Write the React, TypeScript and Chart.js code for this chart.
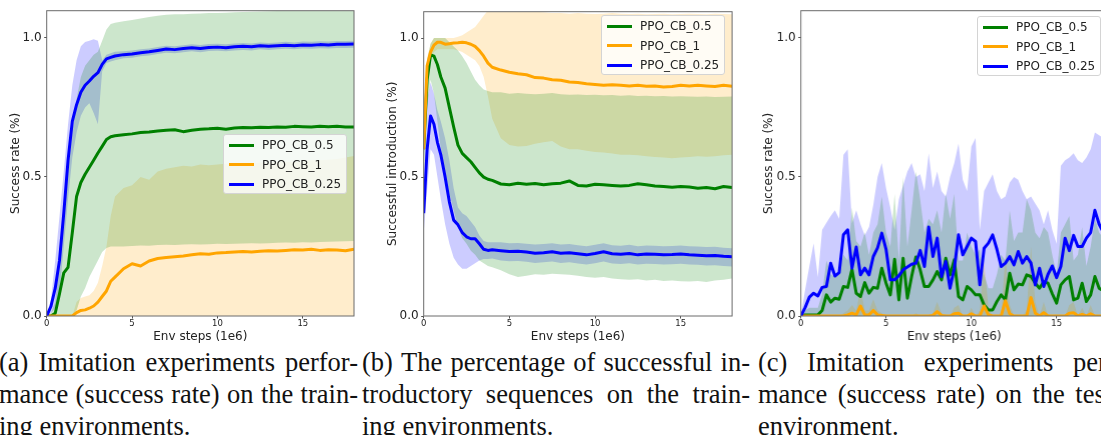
import React, { useEffect, useRef } from "react";
import { Chart, registerables } from "chart.js";

Chart.register(...registerables);

const SANS = "'DejaVu Sans', sans-serif";
const SERIF = "'Liberation Serif', 'Times New Roman', serif";

const LABELS = ["PPO_CB_0.5", "PPO_CB_1", "PPO_CB_0.25"];
const LINE_COLORS = ["#008000", "#ffa500", "#0000ff"];
const FILL_COLORS = ["rgba(0,128,0,0.2)", "rgba(255,165,0,0.2)", "rgba(0,0,255,0.2)"];
const X_TICKS = [0, 5, 10, 15];
const Y_TICKS = [0, 0.5, 1.0];

// ---------- Panel (a): success rate on training environments ----------
const xA = [0, 0.25, 0.5, 0.75, 1, 1.25, 1.5, 1.75, 2, 2.25, 2.5, 2.75, 3, 3.25, 3.5, 3.75, 4,
  4.5, 5, 5.5, 6, 6.5, 7, 7.5, 8, 8.5, 9, 9.5, 10, 10.5, 11, 11.5, 12, 12.5, 13, 13.5, 14, 14.5, 15, 15.5, 16, 16.5, 17, 17.5, 18];

const aGreen = [0, 0, 0.01, 0.08, 0.155, 0.175, 0.3, 0.43, 0.48, 0.51, 0.535, 0.56, 0.586, 0.61, 0.635, 0.645, 0.648,
  0.652, 0.655, 0.66, 0.662, 0.665, 0.668, 0.67, 0.663, 0.668, 0.672, 0.673, 0.675, 0.672, 0.676, 0.678, 0.677, 0.679, 0.678, 0.68, 0.679, 0.682, 0.681, 0.68, 0.682, 0.681, 0.682, 0.68, 0.68];
const aGreenHi = [0, 0.01, 0.05, 0.2, 0.36, 0.52, 0.66, 0.78, 0.86, 0.9, 0.92, 0.94, 0.95, 0.99, 1.03, 1.05, 1.055,
  1.06, 1.065, 1.07, 1.075, 1.08, 1.083, 1.085, 1.085, 1.087, 1.088, 1.09, 1.09, 1.091, 1.092, 1.093, 1.094, 1.095, 1.096, 1.097, 1.098, 1.099, 1.1, 1.1, 1.1, 1.1, 1.1, 1.1, 1.1];
const aGreenLo = [0, 0, 0, 0, 0, 0, 0, 0.02, 0.07, 0.1, 0.14, 0.17, 0.2, 0.23, 0.245, 0.25, 0.25,
  0.25, 0.252, 0.254, 0.253, 0.255, 0.256, 0.255, 0.257, 0.258, 0.257, 0.258, 0.26, 0.259, 0.26, 0.261, 0.262, 0.261, 0.262, 0.263, 0.264, 0.263, 0.265, 0.264, 0.266, 0.267, 0.268, 0.269, 0.27];

const aOrange = [0, 0, 0, 0, 0, 0, 0, 0.012, 0.02, 0.022, 0.028, 0.036, 0.05, 0.07, 0.09, 0.125, 0.14,
  0.17, 0.188, 0.18, 0.198, 0.207, 0.21, 0.213, 0.216, 0.22, 0.224, 0.222, 0.227, 0.228, 0.23, 0.232, 0.23, 0.233, 0.235, 0.234, 0.236, 0.238, 0.237, 0.24, 0.236, 0.238, 0.237, 0.235, 0.24];
const aOrangeHi = [0, 0, 0, 0, 0, 0, 0, 0.05, 0.065, 0.07, 0.075, 0.09, 0.12, 0.18, 0.25, 0.36, 0.43,
  0.46, 0.47, 0.5, 0.49, 0.52, 0.53, 0.535, 0.54, 0.538, 0.545, 0.542, 0.545, 0.548, 0.55, 0.55, 0.548, 0.552, 0.55, 0.553, 0.555, 0.553, 0.556, 0.56, 0.56, 0.562, 0.565, 0.57, 0.575];
const aOrangeLo = [0, 0, 0, 0, 0, 0, 0, 0, 0, 0, 0, 0, 0, 0, 0, 0, 0,
  0, 0, 0, 0, 0, 0, 0, 0, 0, 0, 0, 0, 0, 0, 0, 0, 0, 0, 0, 0, 0, 0, 0, 0, 0, 0, 0, 0];

const aBlue = [0, 0.035, 0.1, 0.2, 0.37, 0.56, 0.7, 0.76, 0.805, 0.83, 0.845, 0.862, 0.875, 0.905, 0.925, 0.93, 0.935,
  0.94, 0.942, 0.947, 0.95, 0.955, 0.96, 0.958, 0.962, 0.965, 0.962, 0.966, 0.967, 0.965, 0.968, 0.97, 0.968, 0.972, 0.97, 0.972, 0.974, 0.972, 0.975, 0.974, 0.976, 0.975, 0.977, 0.977, 0.978];
const aBlueHi = [0, 0.06, 0.2, 0.36, 0.52, 0.69, 0.83, 0.92, 0.97, 0.985, 0.99, 0.995, 0.99, 0.92, 0.94, 0.945, 0.95,
  0.952, 0.955, 0.959, 0.962, 0.967, 0.972, 0.97, 0.974, 0.977, 0.975, 0.978, 0.979, 0.977, 0.98, 0.982, 0.98, 0.984, 0.982, 0.984, 0.986, 0.984, 0.987, 0.986, 0.988, 0.987, 0.989, 0.989, 0.99];
const aBlueLo = [0, 0.01, 0.03, 0.08, 0.25, 0.42, 0.57, 0.66, 0.72, 0.75, 0.765, 0.73, 0.69, 0.88, 0.91, 0.915, 0.92,
  0.927, 0.929, 0.934, 0.937, 0.942, 0.947, 0.945, 0.949, 0.952, 0.949, 0.953, 0.954, 0.952, 0.955, 0.957, 0.955, 0.959, 0.957, 0.959, 0.961, 0.959, 0.962, 0.961, 0.963, 0.962, 0.964, 0.964, 0.965];

// ---------- Panel (b): successful introductory sequences ----------
const xB = [0, 0.2, 0.4, 0.6, 0.8, 1, 1.25, 1.5, 1.75, 2, 2.25, 2.5, 2.75, 3, 3.25, 3.5, 3.75, 4,
  4.5, 5, 5.5, 6, 6.5, 7, 7.5, 8, 8.5, 9, 9.5, 10, 10.5, 11, 11.5, 12, 12.5, 13, 13.5, 14, 14.5, 15, 15.5, 16, 16.5, 17, 17.5, 18];

const bGreen = [0.6, 0.85, 0.94, 0.935, 0.905, 0.86, 0.82, 0.75, 0.68, 0.615, 0.585, 0.57, 0.555, 0.535, 0.515, 0.5, 0.492, 0.488,
  0.475, 0.472, 0.478, 0.474, 0.477, 0.472, 0.476, 0.478, 0.486, 0.47, 0.468, 0.474, 0.472, 0.47, 0.468, 0.47, 0.476, 0.472, 0.468, 0.466, 0.463, 0.466, 0.464, 0.46, 0.462, 0.458, 0.466, 0.462];
const bGreenHi = [0.62, 0.92, 0.98, 1.0, 1.0, 1.0, 1.0, 0.985, 0.97, 0.955, 0.935, 0.91, 0.88, 0.85, 0.83, 0.815, 0.81, 0.805,
  0.805, 0.8, 0.802, 0.8, 0.798, 0.8, 0.802, 0.798, 0.796, 0.797, 0.795, 0.796, 0.794, 0.795, 0.793, 0.794, 0.792, 0.793, 0.791, 0.792, 0.79, 0.791, 0.79, 0.789, 0.79, 0.788, 0.789, 0.79];
const bGreenLo = [0.5, 0.75, 0.85, 0.8, 0.7, 0.6, 0.52, 0.44, 0.38, 0.32, 0.28, 0.26, 0.235, 0.22, 0.2, 0.19, 0.18, 0.175,
  0.165, 0.15, 0.14, 0.145, 0.15, 0.148, 0.152, 0.15, 0.148, 0.145, 0.14, 0.138, 0.14, 0.135, 0.132, 0.13, 0.132, 0.128, 0.13, 0.126, 0.128, 0.125, 0.124, 0.126, 0.122, 0.128, 0.13, 0.135];

const bOrange = [0.6, 0.9, 0.95, 0.975, 0.985, 0.985, 0.978, 0.98, 0.982, 0.983, 0.985, 0.983, 0.978, 0.97, 0.955, 0.935, 0.91, 0.895,
  0.885, 0.877, 0.872, 0.868, 0.858, 0.856, 0.85, 0.848, 0.842, 0.84, 0.836, 0.833, 0.83, 0.832, 0.83, 0.828, 0.83, 0.827, 0.828, 0.824, 0.826, 0.83, 0.828, 0.83, 0.828, 0.826, 0.83, 0.827];
const bOrangeHi = [0.62, 0.93, 0.98, 1.0, 1.0, 1.0, 1.0, 1.0, 1.0, 1.005, 1.01, 1.02, 1.03, 1.04, 1.06, 1.08, 1.1, 1.12,
  1.13, 1.13, 1.12, 1.1, 1.095, 1.093, 1.09, 1.09, 1.088, 1.09, 1.088, 1.087, 1.088, 1.09, 1.088, 1.087, 1.088, 1.086, 1.087, 1.088, 1.086, 1.087, 1.088, 1.087, 1.086, 1.088, 1.087, 1.086];
const bOrangeLo = [0.55, 0.85, 0.92, 0.95, 0.96, 0.96, 0.96, 0.96, 0.96, 0.955, 0.95, 0.94, 0.93, 0.92, 0.9, 0.86, 0.79, 0.71,
  0.64, 0.615, 0.61, 0.612, 0.62, 0.625, 0.63, 0.61, 0.6, 0.6, 0.595, 0.59, 0.588, 0.585, 0.58, 0.58, 0.578, 0.575, 0.572, 0.57, 0.568, 0.57, 0.572, 0.575, 0.573, 0.575, 0.578, 0.58];

const bBlue = [0.37, 0.6, 0.72, 0.69, 0.625, 0.58, 0.5, 0.41, 0.345, 0.328, 0.3, 0.285, 0.278, 0.278, 0.26, 0.24, 0.236, 0.238,
  0.235, 0.232, 0.233, 0.23, 0.226, 0.228, 0.231, 0.226, 0.228, 0.224, 0.22, 0.225, 0.231, 0.224, 0.222, 0.225, 0.22, 0.223, 0.222, 0.22, 0.221, 0.223, 0.22, 0.219, 0.217, 0.218, 0.215, 0.213];
const bBlueHi = [0.45, 0.78, 0.84, 0.8, 0.74, 0.7, 0.64, 0.56, 0.46, 0.39, 0.37, 0.36, 0.34, 0.32, 0.29, 0.27, 0.265, 0.265,
  0.265, 0.262, 0.263, 0.26, 0.257, 0.259, 0.262, 0.257, 0.259, 0.255, 0.251, 0.256, 0.262, 0.255, 0.253, 0.256, 0.251, 0.254, 0.253, 0.251, 0.252, 0.254, 0.251, 0.25, 0.248, 0.249, 0.246, 0.244];
const bBlueLo = [0.3, 0.45, 0.6, 0.58, 0.5, 0.42, 0.33, 0.26, 0.21, 0.185, 0.17, 0.17, 0.18, 0.19, 0.2, 0.205, 0.205, 0.207,
  0.2, 0.197, 0.198, 0.195, 0.191, 0.193, 0.196, 0.191, 0.193, 0.189, 0.185, 0.19, 0.196, 0.189, 0.187, 0.19, 0.185, 0.188, 0.187, 0.185, 0.186, 0.188, 0.185, 0.184, 0.182, 0.183, 0.18, 0.178];

// ---------- Panel (c): success rate on testing environment ----------
const xC = [0, 0.25, 0.5, 0.75, 1, 1.25, 1.5, 1.75, 2, 2.25, 2.5, 2.75, 3, 3.25, 3.5, 3.75,
  4, 4.25, 4.5, 4.75, 5, 5.25, 5.5, 5.75, 6, 6.25, 6.5, 6.75, 7, 7.25, 7.5, 7.75,
  8, 8.25, 8.5, 8.75, 9, 9.25, 9.5, 9.75, 10, 10.25, 10.5, 10.75, 11, 11.25, 11.5, 11.75,
  12, 12.25, 12.5, 12.75, 13, 13.25, 13.5, 13.75, 14, 14.25, 14.5, 14.75, 15, 15.25, 15.5, 15.75,
  16, 16.25, 16.5, 16.75, 17, 17.25, 17.5, 17.75, 18];

const cGreen = [0, 0.004, 0.004, 0.004, 0.004, 0.02, 0.076, 0.05, 0.064, 0.06, 0.106, 0.103, 0.168, 0.082, 0.07, 0.12,
  0.082, 0.103, 0.1, 0.172, 0.118, 0.076, 0.204, 0.058, 0.208, 0.064, 0.142, 0.212, 0.166, 0.106, 0.106, 0.13,
  0.16, 0.13, 0.208, 0.148, 0.202, 0.07, 0.058, 0.106, 0.094, 0.076, 0.076, 0.04, 0.022, 0.022, 0.052, 0.076,
  0.058, 0.154, 0.094, 0.115, 0.112, 0.148, 0.142, 0.118, 0.1, 0.124, 0.118, 0.08, 0.046, 0.112, 0.13, 0.142,
  0.058, 0.064, 0.118, 0.052, 0.076, 0.142, 0.1, 0.09, 0.1];
const cGreenHi = [0, 0.02, 0.03, 0.03, 0.03, 0.08, 0.2, 0.15, 0.14, 0.16, 0.22, 0.2, 0.39, 0.27, 0.25, 0.3,
  0.22, 0.3, 0.33, 0.43, 0.3, 0.25, 0.44, 0.2, 0.5, 0.25, 0.38, 0.52, 0.42, 0.3, 0.35, 0.33,
  0.38, 0.3, 0.44, 0.35, 0.44, 0.2, 0.2, 0.3, 0.25, 0.22, 0.24, 0.15, 0.1, 0.1, 0.15, 0.22,
  0.2, 0.38, 0.27, 0.3, 0.3, 0.42, 0.38, 0.3, 0.28, 0.32, 0.3, 0.22, 0.15, 0.3, 0.33, 0.36,
  0.2, 0.22, 0.32, 0.18, 0.25, 0.35, 0.3, 0.28, 0.28];
const cGreenLo = [0, 0, 0, 0, 0, 0, 0, 0, 0, 0, 0, 0, 0, 0, 0, 0,
  0, 0, 0, 0, 0, 0, 0, 0, 0, 0, 0, 0, 0, 0, 0, 0,
  0, 0, 0, 0, 0, 0, 0, 0, 0, 0, 0, 0, 0, 0, 0, 0,
  0, 0, 0, 0, 0, 0, 0, 0, 0, 0, 0, 0, 0, 0, 0, 0,
  0, 0, 0, 0, 0, 0, 0, 0, 0];

const cOrange = [0, 0, 0, 0, 0, 0, 0, 0, 0, 0, 0, 0.004, 0.01, 0.004, 0.036, 0.004,
  0.004, 0.02, 0.004, 0.002, 0, 0, 0, 0, 0, 0, 0, 0, 0, 0, 0, 0.002,
  0.016, 0.002, 0, 0, 0.008, 0.01, 0, 0, 0.008, 0, 0, 0.036, 0.004, 0, 0, 0,
  0.055, 0.008, 0, 0, 0, 0, 0.066, 0.01, 0, 0.012, 0, 0, 0, 0, 0, 0.01,
  0.012, 0, 0.006, 0, 0.008, 0, 0, 0, 0];
const cOrangeHi = [0, 0, 0, 0, 0, 0, 0, 0, 0, 0, 0.01, 0.02, 0.04, 0.02, 0.1, 0.02,
  0.02, 0.06, 0.02, 0.01, 0, 0, 0, 0, 0, 0, 0, 0.01, 0, 0, 0, 0.01,
  0.05, 0.01, 0, 0, 0.03, 0.04, 0, 0, 0.03, 0, 0.02, 0.2, 0.03, 0, 0, 0,
  0.22, 0.04, 0, 0, 0, 0.02, 0.25, 0.05, 0, 0.05, 0, 0, 0, 0, 0, 0.04,
  0.05, 0, 0.03, 0, 0.04, 0, 0, 0, 0];
const cOrangeLo = [0, 0, 0, 0, 0, 0, 0, 0, 0, 0, 0, 0, 0, 0, 0, 0,
  0, 0, 0, 0, 0, 0, 0, 0, 0, 0, 0, 0, 0, 0, 0, 0,
  0, 0, 0, 0, 0, 0, 0, 0, 0, 0, 0, 0, 0, 0, 0, 0,
  0, 0, 0, 0, 0, 0, 0, 0, 0, 0, 0, 0, 0, 0, 0, 0,
  0, 0, 0, 0, 0, 0, 0, 0, 0];

const cBlue = [0, 0.03, 0.068, 0.082, 0.072, 0.103, 0.106, 0.19, 0.144, 0.156, 0.292, 0.31, 0.172, 0.248, 0.148, 0.172,
  0.148, 0.214, 0.245, 0.298, 0.24, 0.13, 0.13, 0.145, 0.166, 0.176, 0.186, 0.19, 0.236, 0.178, 0.32, 0.214,
  0.28, 0.142, 0.196, 0.1, 0.17, 0.292, 0.22, 0.25, 0.28, 0.268, 0.112, 0.244, 0.262, 0.292, 0.24, 0.178,
  0.19, 0.214, 0.184, 0.232, 0.19, 0.214, 0.19, 0.112, 0.172, 0.106, 0.15, 0.18, 0.138, 0.178, 0.28, 0.235,
  0.29, 0.25, 0.25, 0.28, 0.3, 0.38, 0.33, 0.3, 0.29];
const cBlueHi = [0, 0.094, 0.18, 0.262, 0.14, 0.31, 0.335, 0.36, 0.38, 0.35, 0.58, 0.6, 0.334, 0.38, 0.33, 0.29,
  0.32, 0.4, 0.5, 0.55, 0.46, 0.39, 0.31, 0.42, 0.47, 0.52, 0.55, 0.5, 0.51, 0.45, 0.585, 0.46,
  0.52, 0.45, 0.43, 0.5, 0.55, 0.62, 0.49, 0.45, 0.61, 0.64, 0.31, 0.45, 0.48, 0.51, 0.45, 0.42,
  0.43, 0.48, 0.5, 0.49, 0.45, 0.42, 0.43, 0.405, 0.38, 0.33, 0.38, 0.31, 0.26, 0.54, 0.56, 0.57,
  0.585, 0.56, 0.55, 0.57, 0.6, 0.66, 0.65, 0.64, 0.63];
const cBlueLo = [0, 0, 0, 0, 0, 0, 0, 0, 0, 0, 0, 0, 0, 0, 0, 0,
  0, 0, 0, 0, 0, 0, 0, 0, 0, 0, 0, 0, 0, 0, 0, 0,
  0, 0, 0, 0, 0, 0, 0, 0, 0, 0, 0, 0, 0, 0, 0, 0,
  0, 0, 0, 0, 0, 0, 0, 0, 0, 0, 0, 0, 0, 0, 0, 0,
  0, 0, 0, 0, 0, 0, 0, 0, 0];

// ---------- captions ----------
const CAP_A = ["(a) Imitation experiments perfor-", "mance (success rate) on the train-", "ing environments."];
const CAP_B = ["(b) The percentage of successful in-", "troductory sequences on the train-", "ing environments."];
const CAP_C = ["(c) Imitation experiments perfor-", "mance (success rate) on the testing", "environment."];

type Series = { mean: number[]; hi: number[]; lo: number[] };

const framePlugin = {
  id: "frame",
  afterDatasetsDraw(chart: any) {
    const { ctx, chartArea: a } = chart;
    ctx.save();
    ctx.strokeStyle = "#6a6a6a";
    ctx.lineWidth = 1;
    ctx.strokeRect(a.left, a.top, a.right - a.left, a.bottom - a.top);
    ctx.restore();
  },
};

function Panel(props: {
  left: number; width: number; height: number; padTop: number; padRight: number;
  yMax: number; yTitle: string; yTitlePad: number; xs: number[]; series: Series[];
}) {
  const ref = useRef<HTMLCanvasElement>(null);
  useEffect(() => {
    const { xs, series } = props;
    const pts = (arr: number[]) => xs.map((x, i) => ({ x, y: arr[i] }));
    const datasets: any[] = [];
    const lineOrder = [3, 2, 1];
    series.forEach((s, k) => {
      datasets.push({
        label: LABELS[k], data: pts(s.mean), borderColor: LINE_COLORS[k], borderWidth: 3,
        pointRadius: 0, fill: false, order: lineOrder[k], borderJoinStyle: "round", borderCapStyle: "butt",
      });
    });
    series.forEach((s, k) => {
      datasets.push({ data: pts(s.hi), borderWidth: 0, pointRadius: 0, backgroundColor: FILL_COLORS[k], fill: "+1", order: 10 + k });
      datasets.push({ data: pts(s.lo), borderWidth: 0, pointRadius: 0, fill: false, order: 10 + k });
    });
    const tickGrid = { drawOnChartArea: false, drawTicks: true, tickLength: 2.5, tickColor: "#555", lineWidth: 1 };
    const chart = new Chart(ref.current as HTMLCanvasElement, {
      type: "line",
      data: { datasets },
      plugins: [framePlugin],
      options: {
        animation: false,
        responsive: true,
        maintainAspectRatio: false,
        events: [],
        layout: { padding: { left: 0, top: props.padTop, right: props.padRight, bottom: 0 } },
        plugins: { legend: { display: false }, tooltip: { enabled: false } },
        scales: {
          x: {
            type: "linear", min: 0, max: 18,
            afterFit: (s: any) => { s.height = 29; },
            afterBuildTicks: (s: any) => { s.ticks = X_TICKS.map((v) => ({ value: v })); },
            ticks: { autoSkip: false, maxRotation: 0, padding: 0, color: "#222", font: { family: SANS, size: 8.5 }, callback: (v: any) => String(v) },
            grid: tickGrid, border: { display: false },
            title: { display: true, text: "Env steps (1e6)", color: "#222", font: { family: SANS, size: 12 }, padding: { top: 0, bottom: 1.3 } },
          },
          y: {
            type: "linear", min: 0, max: props.yMax,
            afterFit: (s: any) => { s.width = 46.7; },
            afterBuildTicks: (s: any) => { s.ticks = Y_TICKS.map((v) => ({ value: v })); },
            ticks: { autoSkip: false, padding: 2.5, color: "#222", font: { family: SANS, size: 12 }, callback: (v: any) => Number(v).toFixed(1) },
            grid: tickGrid, border: { display: false },
            title: { display: true, text: props.yTitle, color: "#222", font: { family: SANS, size: 12 }, padding: { top: props.yTitlePad, bottom: 0 } },
          },
        },
      } as any,
    });
    return () => chart.destroy();
  }, []);
  return (
    <div style={{ position: "absolute", left: props.left, top: 0, width: props.width, height: props.height }}>
      <canvas ref={ref} />
    </div>
  );
}

function Legend({ left, top }: { left: number; top: number }) {
  const rows = [10, 29.5, 49];
  return (
    <div style={{ position: "absolute", left, top, width: 124, height: 60, background: "rgba(255,255,255,0.8)", border: "1px solid #d4d4d4", borderRadius: 3, boxSizing: "border-box" }}>
      {LABELS.map((lab, i) => (
        <React.Fragment key={lab}>
          <div style={{ position: "absolute", left: 5, top: rows[i] - 1.5, width: 25, height: 3, background: LINE_COLORS[i] }} />
          <div style={{ position: "absolute", left: 38, top: rows[i] - 8, height: 16, lineHeight: "16px", fontFamily: SANS, fontSize: 12, color: "#222", whiteSpace: "nowrap" }}>{lab}</div>
        </React.Fragment>
      ))}
    </div>
  );
}

function Caption({ left, width, lines }: { left: number; width: number; lines: string[] }) {
  return (
    <div style={{ position: "absolute", left, top: 346, width, fontFamily: SERIF, fontSize: 26.5, color: "#111" }}>
      {lines.map((ln, i) => {
        const last = i === lines.length - 1;
        return (
          <div key={i} style={{ height: 32, lineHeight: "32px", whiteSpace: "nowrap", display: last ? "block" : "flex", justifyContent: "space-between", columnGap: 4 }}>
            {last ? ln : ln.split(" ").map((w, j) => <span key={j}>{w}</span>)}
          </div>
        );
      })}
    </div>
  );
}

export default function App() {
  const sA: Series[] = [
    { mean: aGreen, hi: aGreenHi, lo: aGreenLo },
    { mean: aOrange, hi: aOrangeHi, lo: aOrangeLo },
    { mean: aBlue, hi: aBlueHi, lo: aBlueLo },
  ];
  const sB: Series[] = [
    { mean: bGreen, hi: bGreenHi, lo: bGreenLo },
    { mean: bOrange, hi: bOrangeHi, lo: bOrangeLo },
    { mean: bBlue, hi: bBlueHi, lo: bBlueLo },
  ];
  const sC: Series[] = [
    { mean: cGreen, hi: cGreenHi, lo: cGreenLo },
    { mean: cOrange, hi: cOrangeHi, lo: cOrangeLo },
    { mean: cBlue, hi: cBlueHi, lo: cBlueLo },
  ];
  return (
    <div style={{ position: "absolute", left: 0, top: 0, width: 1101, height: 435, overflow: "hidden", background: "#fff" }}>
      <Panel left={0} width={370} height={345} padTop={10.7} padRight={16} yMax={1.098} yTitle="Success rate (%)" yTitlePad={8.5} xs={xA} series={sA} />
      <Panel left={376.6} width={370} height={345} padTop={11.7} padRight={14.9} yMax={1.095} yTitle="Successful introduction (%)" yTitlePad={8.2} xs={xB} series={sB} />
      <Panel left={754.3} width={368.7} height={345} padTop={10.7} padRight={16} yMax={1.098} yTitle="Success rate (%)" yTitlePad={7.5} xs={xC} series={sC} />
      <Legend left={223} top={134} />
      <Legend left={601} top={15} />
      <Legend left={977} top={16} />
      <Caption left={-1} width={359} lines={CAP_A} />
      <Caption left={362} width={388} lines={CAP_B} />
      <Caption left={758} width={388} lines={CAP_C} />
    </div>
  );
}
